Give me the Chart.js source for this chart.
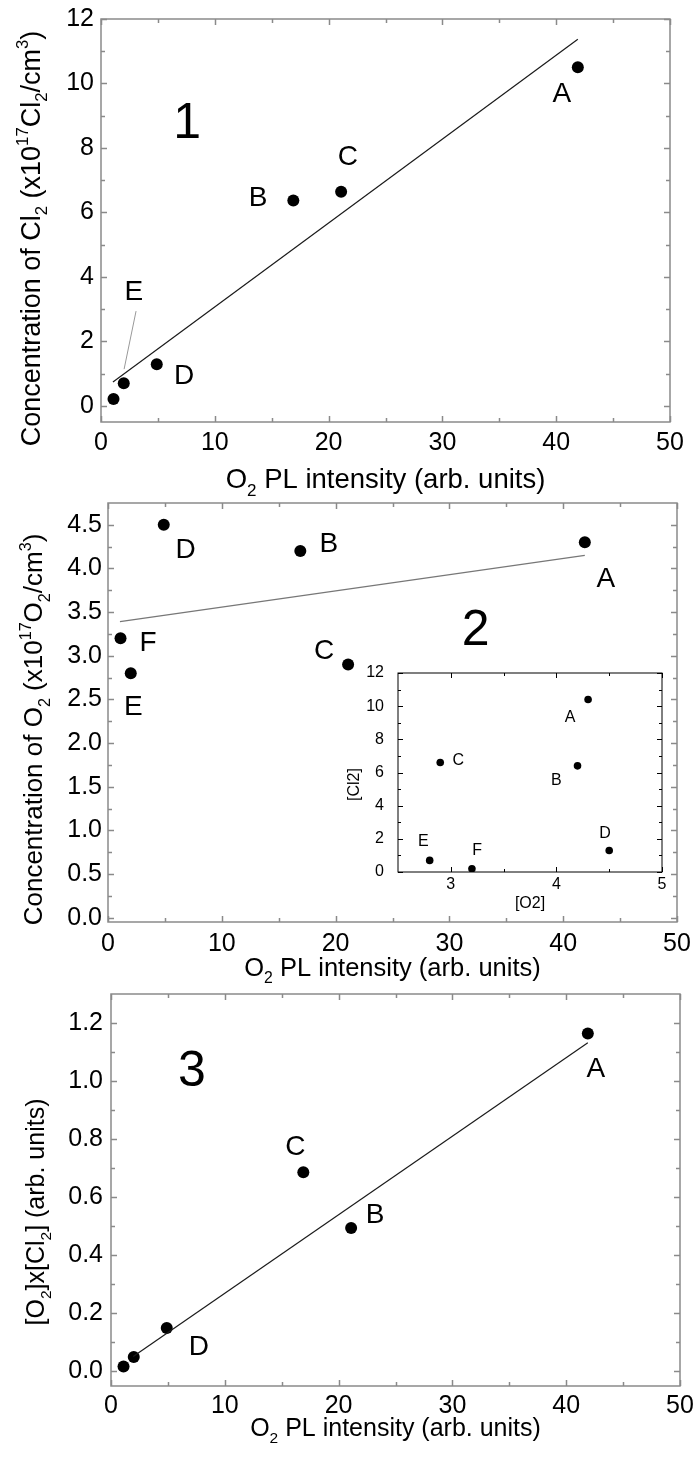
<!DOCTYPE html>
<html>
<head>
<meta charset="utf-8">
<script src="https://cdn.jsdelivr.net/npm/chart.js@4.4.1/dist/chart.umd.min.js"></script>
<style>
  html, body { margin: 0; padding: 0; background: #fff; }
  #page { position: relative; width: 697px; height: 1461px; overflow: hidden; background: #fff; }
  canvas { position: absolute; left: 0; }
</style>
</head>
<body>
<div id="page">
  <canvas id="panel1" width="697" height="510" style="top:0px"></canvas>
  <canvas id="panel2" width="697" height="510" style="top:490px"></canvas>
  <canvas id="panel3" width="697" height="476" style="top:985px"></canvas>
  <canvas id="inset" width="350" height="265" style="left:330px;top:655px"></canvas>
</div>
<script>
// samples A..F
const samples = ['A', 'B', 'C', 'D', 'E', 'F'];
const plIntensity = [41.9, 16.9, 21.1, 4.9, 2.0, 1.1];
const cl2Conc = [10.5, 6.37, 6.64, 1.29, 0.70, 0.21];
const o2Conc = [4.3, 4.2, 2.9, 4.5, 2.8, 3.2];
const productConc = [1.164, 0.686, 0.494, 0.15, 0.05, 0.017];

// inset: [Cl2] vs [O2]
const insetO2 = [4.3, 4.2, 2.9, 4.5, 2.8, 3.2];
const insetCl2 = [10.4, 6.4, 6.6, 1.3, 0.7, 0.2];

// fitted lines (end points)
const fit1X = [1.05, 41.9], fit1Y = [0.74, 11.37];
const fit2X = [1.05, 41.9], fit2Y = [3.39, 4.15];
const fit3X = [1.95, 41.9], fit3Y = [0.052, 1.132];

// ticks
const xTicks = [0, 10, 20, 30, 40, 50];
const xTickLabels = ['0', '10', '20', '30', '40', '50'];
const xMinor = [5, 15, 25, 35, 45];
const y1Ticks = [0, 2, 4, 6, 8, 10, 12];
const y1TickLabels = ['0', '2', '4', '6', '8', '10', '12'];
const y1Minor = [1, 3, 5, 7, 9, 11];
const y2Ticks = [0, 0.5, 1, 1.5, 2, 2.5, 3, 3.5, 4, 4.5];
const y2TickLabels = ['0.0', '0.5', '1.0', '1.5', '2.0', '2.5', '3.0', '3.5', '4.0', '4.5'];
const y2Minor = [0.25, 0.75, 1.25, 1.75, 2.25, 2.75, 3.25, 3.75, 4.25];
const y3Ticks = [0, 0.2, 0.4, 0.6, 0.8, 1.0, 1.2];
const y3TickLabels = ['0.0', '0.2', '0.4', '0.6', '0.8', '1.0', '1.2'];
const y3Minor = [0.1, 0.3, 0.5, 0.7, 0.9, 1.1];
const insetXTicks = [3, 4, 5];
const insetXTickLabels = ['3', '4', '5'];
const insetXMinor = [3.5, 4.5];
const insetYTicks = [0, 2, 4, 6, 8, 10, 12];
const insetYTickLabels = ['0', '2', '4', '6', '8', '10', '12'];
const insetYMinor = [1, 3, 5, 7, 9, 11];

const FONT = "'Liberation Sans', Arial, sans-serif";

function parseRich(str) {
    const parts = [];
    const re = /([_^])\{([^}]*)\}|([^_^]+)/g;
    let m;
    while ((m = re.exec(str))) {
        if (m[3]) parts.push({ t: m[3], s: '' });
        else parts.push({ t: m[2], s: m[1] === '_' ? 'sub' : 'sup' });
    }
    return parts;
}

// draw text with sub/superscripts, centred at (cx, cy)
function drawRich(ctx, str, cx, cy, size, rotate) {
    const parts = parseRich(str);
    const small = size * 0.62;
    ctx.save();
    ctx.translate(cx, cy);
    if (rotate) ctx.rotate(-Math.PI / 2);
    let w = 0;
    parts.forEach(p => {
        ctx.font = (p.s ? small : size) + 'px ' + FONT;
        w += ctx.measureText(p.t).width;
    });
    let x = -w / 2;
    ctx.fillStyle = '#000';
    ctx.textAlign = 'left';
    ctx.textBaseline = 'alphabetic';
    parts.forEach(p => {
        ctx.font = (p.s ? small : size) + 'px ' + FONT;
        let dy = 0;
        if (p.s === 'sub') dy = size * 0.28;
        if (p.s === 'sup') dy = -size * 0.42;
        ctx.fillText(p.t, x, size * 0.36 + dy);
        x += ctx.measureText(p.t).width;
    });
    ctx.restore();
}

function makeChart(id, o) {
    const datasets = [];
    if (o.fitX) {
        datasets.push({
            data: o.fitX.map((x, i) => ({ x: x, y: o.fitY[i] })),
            showLine: true,
            pointRadius: 0,
            borderColor: o.fitColor,
            borderWidth: o.fitWidth,
        });
    }
    datasets.push({
        data: o.x.map((x, i) => ({ x: x, y: o.y[i] })),
        pointRadius: o.r,
        pointHoverRadius: o.r,
        backgroundColor: '#000',
        borderWidth: 0,
    });

    const decor = {
        id: 'decor',
        afterDraw(chart) {
            const { ctx, chartArea: a, scales } = chart;
            const sx = scales.x, sy = scales.y;
            ctx.save();
            ctx.strokeStyle = o.frameColor;
            ctx.lineWidth = o.frameWidth;
            ctx.strokeRect(a.left, a.top, a.right - a.left, a.bottom - a.top);
            ctx.beginPath();
            const xt = (vals, len) => vals.forEach(v => {
                const px = Math.round(sx.getPixelForValue(v)) + 0.5;
                ctx.moveTo(px, a.bottom); ctx.lineTo(px, a.bottom - len);
                ctx.moveTo(px, a.top); ctx.lineTo(px, a.top + len);
            });
            const yt = (vals, len) => vals.forEach(v => {
                const py = Math.round(sy.getPixelForValue(v)) + 0.5;
                ctx.moveTo(a.left, py); ctx.lineTo(a.left + len, py);
                ctx.moveTo(a.right, py); ctx.lineTo(a.right - len, py);
            });
            xt(o.xTicks, o.majorLen); xt(o.xMinor, o.minorLen);
            yt(o.yTicks, o.majorLen); yt(o.yMinor, o.minorLen);
            ctx.stroke();

            // leader lines
            (o.leaders || []).forEach(l => {
                ctx.beginPath();
                ctx.strokeStyle = l.color;
                ctx.lineWidth = 1;
                ctx.moveTo(sx.getPixelForValue(l.x1), sy.getPixelForValue(l.y1));
                ctx.lineTo(sx.getPixelForValue(l.x2), sy.getPixelForValue(l.y2));
                ctx.stroke();
            });

            // point labels and panel number
            ctx.fillStyle = '#000';
            ctx.textAlign = 'center';
            ctx.textBaseline = 'alphabetic';
            o.notes.forEach(n => {
                ctx.font = n.size + 'px ' + FONT;
                ctx.fillText(n.t, sx.getPixelForValue(n.x), sy.getPixelForValue(n.y) + n.size * 0.36);
            });
            ctx.restore();

            // axis titles
            drawRich(ctx, o.xTitle, (a.left + a.right) / 2, a.bottom + o.xTitleOff, o.xTitleSize, false);
            drawRich(ctx, o.yTitle, o.yTitleX, (a.top + a.bottom) / 2 + o.yTitleOff, o.yTitleSize, true);
        }
    };

    return new Chart(document.getElementById(id), {
        type: 'scatter',
        data: { datasets: datasets },
        options: {
            responsive: false,
            animation: false,
            devicePixelRatio: 1,
            layout: { padding: { left: 0, top: o.padTop, right: o.padRight, bottom: 0 } },
            plugins: { legend: { display: false }, tooltip: { enabled: false } },
            scales: {
                x: {
                    type: 'linear', min: o.xMin, max: o.xMax,
                    grid: { display: false, drawTicks: false },
                    border: { display: false },
                    ticks: {
                        color: '#000', padding: o.xPad, maxRotation: 0, autoSkip: false,
                        font: { family: FONT, size: o.tickSize },
                        callback: (v, i) => o.xLabels[i]
                    },
                    afterBuildTicks: s => { s.ticks = o.xTicks.map(v => ({ value: v })); },
                    afterFit: s => { s.height = o.xAxisH; s.paddingLeft = 0; s.paddingRight = 0; }
                },
                y: {
                    type: 'linear', min: o.yMin, max: o.yMax,
                    grid: { display: false, drawTicks: false },
                    border: { display: false },
                    ticks: {
                        color: '#000', padding: o.yPad, autoSkip: false,
                        font: { family: FONT, size: o.tickSize },
                        callback: (v, i) => o.yLabels[i]
                    },
                    afterBuildTicks: s => { s.ticks = o.yTicks.map(v => ({ value: v })); },
                    afterFit: s => { s.width = o.yAxisW; s.paddingTop = 0; s.paddingBottom = 0; }
                }
            }
        },
        plugins: [decor]
    });
}

const mainStyle = {
    r: 6, tickSize: 25, frameColor: '#8a8a8a', frameWidth: 1.5,
    majorLen: 6, minorLen: 4
};

// panel 1: [Cl2] vs O2 PL
makeChart('panel1', Object.assign({}, mainStyle, {
    x: plIntensity, y: cl2Conc,
    fitX: fit1X, fitY: fit1Y, fitColor: '#1a1a1a', fitWidth: 1.2,
    xMin: 0, xMax: 50, yMin: -0.5, yMax: 12,
    xTicks: xTicks, xLabels: xTickLabels, xMinor: xMinor,
    yTicks: y1Ticks, yLabels: y1TickLabels, yMinor: y1Minor,
    padTop: 19, padRight: 27, yAxisW: 101, xAxisH: 88, xPad: 6, yPad: 7,
    xTitle: 'O_{2} PL intensity (arb. units)', xTitleOff: 56, xTitleSize: 27.5,
    yTitle: 'Concentration of Cl_{2} (x10^{17}Cl_{2}/cm^{3})', yTitleX: 30, yTitleOff: 18, yTitleSize: 27,
    leaders: [{ x1: 3.08, y1: 2.94, x2: 2.03, y2: 1.14, color: '#999' }],
    notes: [
        { t: '1', x: 7.57, y: 8.87, size: 50 },
        { t: 'A', x: 40.5, y: 9.75, size: 28 },
        { t: 'B', x: 13.8, y: 6.5, size: 28 },
        { t: 'C', x: 21.7, y: 7.79, size: 28 },
        { t: 'D', x: 7.3, y: 0.98, size: 28 },
        { t: 'E', x: 2.89, y: 3.61, size: 28 }
    ]
}));

// panel 2: [O2] vs O2 PL
makeChart('panel2', Object.assign({}, mainStyle, {
    x: plIntensity, y: o2Conc,
    fitX: fit2X, fitY: fit2Y, fitColor: '#777', fitWidth: 1.2,
    xMin: 0, xMax: 50, yMin: -0.05, yMax: 4.75,
    xTicks: xTicks, xLabels: xTickLabels, xMinor: xMinor,
    yTicks: y2Ticks, yLabels: y2TickLabels, yMinor: y2Minor,
    padTop: 13, padRight: 20, yAxisW: 108, xAxisH: 78, xPad: 7, yPad: 6,
    xTitle: 'O_{2} PL intensity (arb. units)', xTitleOff: 45, xTitleSize: 25.5,
    yTitle: 'Concentration of O_{2} (x10^{17}O_{2}/cm^{3})', yTitleX: 33, yTitleOff: 17, yTitleSize: 26,
    notes: [
        { t: '2', x: 32.3, y: 3.33, size: 50 },
        { t: 'A', x: 43.75, y: 3.9, size: 28 },
        { t: 'B', x: 19.4, y: 4.3, size: 28 },
        { t: 'C', x: 19.0, y: 3.08, size: 28 },
        { t: 'D', x: 6.83, y: 4.23, size: 28 },
        { t: 'E', x: 2.22, y: 2.44, size: 28 },
        { t: 'F', x: 3.51, y: 3.17, size: 28 }
    ]
}));

// panel 3: [O2]x[Cl2] vs O2 PL
makeChart('panel3', Object.assign({}, mainStyle, {
    x: plIntensity, y: productConc,
    fitX: fit3X, fitY: fit3Y, fitColor: '#1a1a1a', fitWidth: 1.2,
    xMin: 0, xMax: 50, yMin: -0.05, yMax: 1.3,
    xTicks: xTicks, xLabels: xTickLabels, xMinor: xMinor,
    yTicks: y3Ticks, yLabels: y3TickLabels, yMinor: y3Minor,
    padTop: 9, padRight: 17, yAxisW: 111, xAxisH: 75, xPad: 5, yPad: 8,
    xTitle: 'O_{2} PL intensity (arb. units)', xTitleOff: 41, xTitleSize: 25,
    yTitle: '[O_{2}]x[Cl_{2}] (arb. units)', yTitleX: 35, yTitleOff: 22, yTitleSize: 25,
    notes: [
        { t: '3', x: 7.1, y: 1.046, size: 50 },
        { t: 'A', x: 42.6, y: 1.05, size: 28 },
        { t: 'C', x: 16.2, y: 0.78, size: 28 },
        { t: 'B', x: 23.2, y: 0.546, size: 28 },
        { t: 'D', x: 7.72, y: 0.092, size: 28 }
    ]
}));

// inset of panel 2: [Cl2] vs [O2]
makeChart('inset', {
    x: insetO2, y: insetCl2, r: 3.8,
    tickSize: 16, frameColor: '#000', frameWidth: 1,
    majorLen: 5, minorLen: 3, xPad: 3, yPad: 14,
    xMin: 2.5, xMax: 5, yMin: 0, yMax: 12,
    xTicks: insetXTicks, xLabels: insetXTickLabels, xMinor: insetXMinor,
    yTicks: insetYTicks, yLabels: insetYTickLabels, yMinor: insetYMinor,
    padTop: 18, padRight: 18, yAxisW: 68, xAxisH: 48,
    xTitle: '[O2]', xTitleOff: 30, xTitleSize: 16,
    yTitle: '[Cl2]', yTitleX: 23, yTitleOff: 12, yTitleSize: 16,
    notes: [
        { t: 'A', x: 4.13, y: 9.38, size: 16 },
        { t: 'B', x: 4.0, y: 5.6, size: 16 },
        { t: 'C', x: 3.07, y: 6.82, size: 16 },
        { t: 'D', x: 4.46, y: 2.42, size: 16 },
        { t: 'E', x: 2.74, y: 1.92, size: 16 },
        { t: 'F', x: 3.25, y: 1.37, size: 16 }
    ]
});
</script>
</body>
</html>
